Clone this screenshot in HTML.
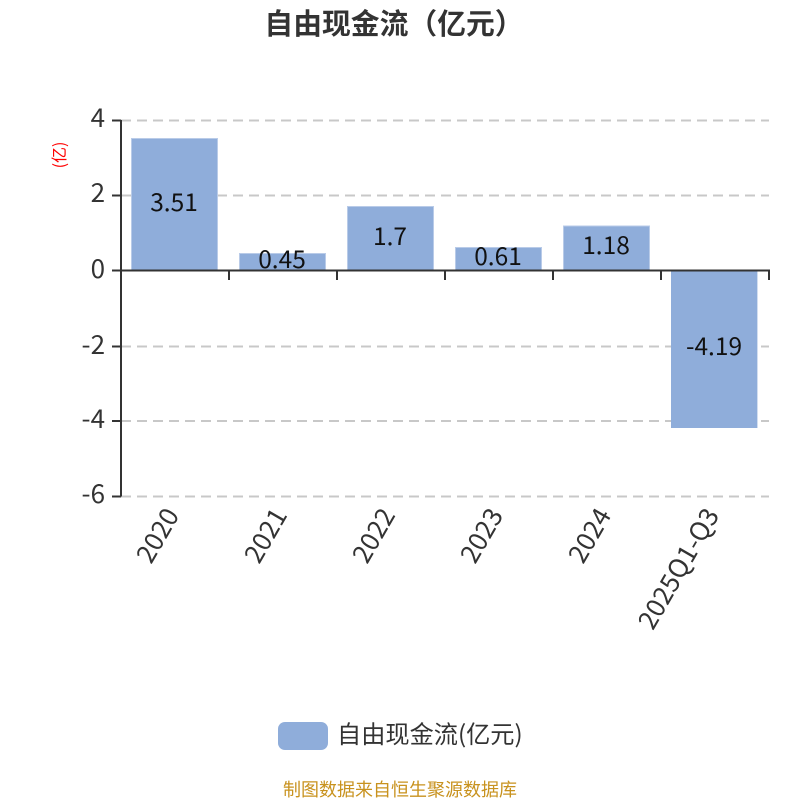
<!DOCTYPE html>
<html><head><meta charset="utf-8"><style>html,body{margin:0;padding:0;background:#fff}svg{display:block}text{font-family:"Noto Sans CJK SC","Liberation Sans",sans-serif}</style></head><body>
<svg width="800" height="800" viewBox="0 0 800 800" xmlns="http://www.w3.org/2000/svg">
<text x="394" y="34" text-anchor="middle" font-size="28.800" font-weight="700" fill="#333">自由现金流（亿元）</text>
<g stroke="#c8c8c8" stroke-width="2" stroke-dasharray="10 6" fill="none">
<path d="M121 120.500H769M121 195.500H769M121 346.500H769M121 421H769M121 496.500H769"/>
</g>
<g fill="#8fadda" stroke="#b9cbe8" stroke-width="1">
<rect x="131.500" y="138.500" width="86" height="132"/>
<rect x="239.500" y="253.500" width="86" height="17"/>
<rect x="347.500" y="206.500" width="86" height="64"/>
<rect x="455.500" y="247.500" width="86" height="23"/>
<rect x="563.500" y="226" width="86" height="44.500"/>
</g>
<rect x="671" y="270.500" width="86.400" height="157.500" fill="#8fadda"/>
<g stroke="#333" stroke-width="2" fill="none">
<path d="M121 120V496.500"/>
<path d="M112 120.500H121M112 195.500H121M112 270.500H121M112 346.500H121M112 421H121M112 496.500H121"/>
<path d="M112 270.500H770"/>
<path d="M229 270V280M337 270V280M445 270V280M553 270V280M661 270V280M769 270V280"/>
</g>
<g font-size="26" fill="#333" text-anchor="end">
<text x="105" y="127">4</text>
<text x="105" y="202">2</text>
<text x="105" y="278">0</text>
<text x="105" y="354">-2</text>
<text x="105" y="428">-4</text>
<text x="105" y="503">-6</text>
</g>
<text transform="translate(65,155) rotate(-90)" text-anchor="middle" font-size="16" fill="#f00">(亿)</text>
<g font-size="24.500" fill="#111" text-anchor="middle">
<text x="174" y="211">3.51</text>
<text x="282" y="268">0.45</text>
<text x="390" y="245">1.7</text>
<text x="498" y="265">0.61</text>
<text x="606" y="254">1.18</text>
<text x="714" y="355">-4.19</text>
</g>
<g font-size="26" fill="#333" text-anchor="end">
<text transform="translate(180,515) rotate(-60)">2020</text>
<text transform="translate(288,515) rotate(-60)">2021</text>
<text transform="translate(396,515) rotate(-60)">2022</text>
<text transform="translate(504,515) rotate(-60)">2023</text>
<text transform="translate(612,515) rotate(-60)">2024</text>
<text transform="translate(720,515) rotate(-60)">2025Q1-Q3</text>
</g>
<rect x="278" y="722" width="50" height="28" rx="7" fill="#8fadda"/>
<text x="337" y="743" font-size="24.200" fill="#333">自由现金流(亿元)</text>
<text x="400" y="796" text-anchor="middle" font-size="18" fill="#c8921e">制图数据来自恒生聚源数据库</text>
</svg>
</body></html>
